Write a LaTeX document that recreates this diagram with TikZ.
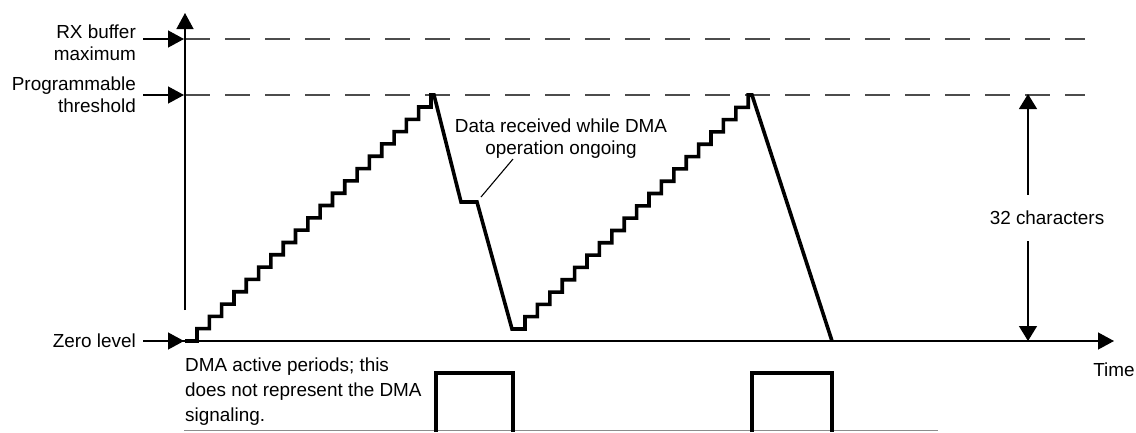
\documentclass[tikz,border=0pt]{standalone}
\usepackage{fontspec}
\setmainfont{Liberation Sans}
\usetikzlibrary{arrows.meta}
\tikzset{
  lbl/.style={inner sep=0pt, font=\fontsize{18.9}{22}\selectfont},
  axis/.style={line width=1.3pt, black},
  tipbig/.style={-{Triangle[length=16pt,width=17pt]}},
  guide/.style={line width=1.1pt, black!70, dash pattern=on 25pt off 15pt},
  stair/.style={line width=3.6pt, black},
  pulse/.style={line width=3.6pt, black},
  base/.style={line width=1pt, black!45},
  leader/.style={line width=1.1pt, black},
}
\begin{document}
\begin{tikzpicture}[x=1pt,y=-1pt]
\useasboundingbox (0,0) rectangle (1136,432);
% labels
\node[lbl, anchor=east, align=right] (rx) at (136,43) {RX buffer\\maximum};
\node[lbl, anchor=east, align=right] (thr) at (136,95) {Programmable\\threshold};
\node[lbl, anchor=east] (zero) at (136,341) {Zero level};
\node[lbl, align=center] (data) at (561,139) {Data received while DMA\\operation ongoing};
\node[lbl, minimum height=46pt] (chars) at (1047,218) {32 characters};
\node[lbl] (time) at (1114,370) {Time};
\node[lbl, anchor=north west, align=left, font=\fontsize{18.9}{24.8}\selectfont] (dma) at (185,358) {DMA active periods; this\\does not represent the DMA\\signaling.};
% coordinates
\coordinate (ybot) at (185,310);
\coordinate (ytop) at (185,13);
\coordinate (rxs) at (143,39);
\coordinate (rxe) at (184,39);
\coordinate (ths) at (143,95);
\coordinate (the) at (184,95);
\coordinate (zs) at (143,341);
\coordinate (ze) at (184,341);
\coordinate (tend) at (1114,341);
\coordinate (dimtop) at (1028,94);
\coordinate (dimbot) at (1028,341);
\coordinate (leadA) at (513,159);
\coordinate (leadB) at (481,197);
% guides
\draw[guide] (185,39) -- (1085,39);
\draw[guide] (185,95) -- (1085,95);
% axes
\draw[axis, tipbig] (ybot) -- (ytop);
\draw[axis, tipbig] (zs) -- (tend);
\draw[axis, tipbig] (rxs) -- (rxe);
\draw[axis, tipbig] (ths) -- (the);
\draw[axis, tipbig] (zs) -- (ze);
% dimension arrow
\draw[axis, -{Triangle[length=15pt,width=18pt]}] (chars.north -| dimtop) -- (dimtop);
\draw[axis, -{Triangle[length=15pt,width=18pt]}] (chars.south -| dimbot) -- (dimbot);
% staircase signal
\draw[stair] (185,341) -- (197,341)
  \foreach \i in {1,...,19} { -- ++(0,-12.316) -- ++(12.316,0) }
  -- (431,95) -- (434,95) -- (461,202) -- (477,202) -- (512,329) -- (525,329)
  \foreach \i in {1,...,18} { -- ++(0,-12.316) -- ++(12.4,0) }
  -- (748.2,95) -- (752,95) -- (832,341);
% leader
\draw[leader] (leadA) -- (leadB);
% DMA pulses
\draw[base] (184,430) -- (938,430);
\draw[pulse] (436,432) -- (436,373) -- (513,373) -- (513,432);
\draw[pulse] (752,432) -- (752,373) -- (832,373) -- (832,432);
\end{tikzpicture}
\end{document}
